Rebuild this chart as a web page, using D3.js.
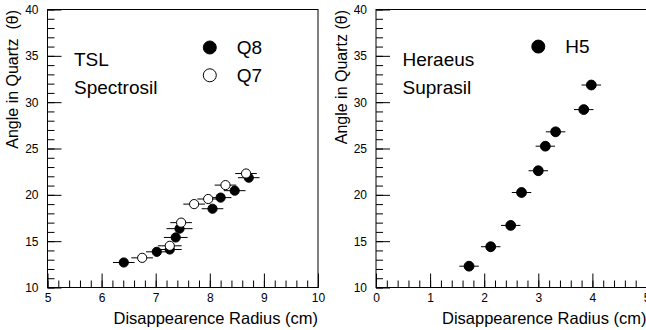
<!DOCTYPE html>
<html>
<head>
<meta charset="utf-8">
<script src="https://cdn.jsdelivr.net/npm/d3@7"></script>
<style>
  body { margin: 0; background: #fff; }
  text { font-family: "Liberation Sans", Arial, sans-serif; fill: #000; }
</style>
</head>
<body>
<div id="viz"></div>
<script>
// TSL Spectrosil, sample Q8 (filled)
let q8Radius = [6.41, 7.02, 7.26, 7.37, 7.44, 8.05, 8.20, 8.46, 8.72]
let q8Angle  = [12.7, 13.85, 14.1, 15.4, 16.35, 18.5, 19.7, 20.45, 21.85]
let q8Err    = [0.2, 0.2, 0.22, 0.22, 0.24, 0.2, 0.2, 0.2, 0.2]
// TSL Spectrosil, sample Q7 (open)
let q7Radius = [6.75, 7.26, 7.47, 7.71, 7.97, 8.29, 8.67]
let q7Angle  = [13.2, 14.5, 17.0, 19.0, 19.55, 21.05, 22.3]
let q7Err    = [0.2, 0.22, 0.2, 0.2, 0.2, 0.2, 0.2]
// Heraeus Suprasil, sample H5
let h5Radius = [1.72, 2.12, 2.49, 2.69, 3.0, 3.13, 3.32, 3.84, 3.98]
let h5Angle  = [12.3, 14.4, 16.7, 20.25, 22.6, 25.25, 26.8, 29.2, 31.85]
let h5Err    = [0.18, 0.18, 0.18, 0.18, 0.18, 0.18, 0.18, 0.18, 0.18]

let xTitle = "Disappearence Radius (cm)"

const W = 646, H = 330

var svg = d3.select("#viz").append("svg")
    .attr("width", W)
    .attr("height", H)

function makeSeries(r, a, e) {
    let out = []
    for (let i = 0; i < r.length; i++) {
        out.push({r: r[i], a: a[i], e: e[i]})
    }
    return out
}

function panel(opt) {
    var x = d3.scaleLinear().domain(opt.xDomain).range([opt.left, opt.left + 270.5])
    var y = d3.scaleLinear().domain([10, 40]).range([287.5, 9.5])

    var g = svg.append("g")

    // minor ticks
    g.append("g")
        .attr("transform", "translate(0,287.5)")
        .call(d3.axisBottom(x).tickValues(d3.range(opt.xDomain[0], opt.xDomain[1] + 0.001, 0.2)).tickSize(-7).tickFormat(""))
        .call(s => s.select(".domain").remove())
    g.append("g")
        .attr("transform", "translate(" + opt.left + ",0)")
        .call(d3.axisLeft(y).tickValues(d3.range(10, 41, 1)).tickSize(-7).tickFormat(""))
        .call(s => s.select(".domain").remove())

    // major ticks + labels
    g.append("g")
        .attr("transform", "translate(0,287.5)")
        .call(d3.axisBottom(x).ticks(5).tickSize(-14).tickPadding(6).tickFormat(d3.format("d")))
        .call(s => s.select(".domain").remove())
        .selectAll("text").style("font-size", "12px")
    g.append("g")
        .attr("transform", "translate(" + opt.left + ",0)")
        .call(d3.axisLeft(y).tickValues([10, 15, 20, 25, 30, 35, 40]).tickSize(-14).tickPadding(9))
        .call(s => s.select(".domain").remove())
        .selectAll("text").style("font-size", "12px")

    g.selectAll(".tick line").attr("stroke", "#000")

    // frame
    g.append("rect")
        .attr("x", x.range()[0]).attr("y", 9.5)
        .attr("width", x.range()[1] - x.range()[0]).attr("height", 278)
        .attr("fill", "none").attr("stroke", "#000").attr("stroke-width", 1)

    // axis titles
    g.append("text")
        .attr("x", x.range()[1]).attr("y", 323.5)
        .attr("text-anchor", "end")
        .style("font-size", "16.5px")
        .text(xTitle)
    g.append("text")
        .attr("transform", "translate(" + (opt.left - 29.5) + ",10) rotate(-90)")
        .attr("text-anchor", "end")
        .style("font-size", "16px")
        .style("white-space", "pre")
        .text(opt.yTitle)

    // data
    opt.series.forEach(function(s) {
        var pts = g.append("g")
        pts.selectAll(".err")
            .data(s.data)
            .enter().append("line")
            .attr("class", "err")
            .attr("x1", d => x(d.r - d.e))
            .attr("x2", d => x(d.r + d.e))
            .attr("y1", d => y(d.a))
            .attr("y2", d => y(d.a))
            .attr("stroke", "#000")
            .attr("stroke-width", 1)
        pts.selectAll(".dot")
            .data(s.data)
            .enter().append("circle")
            .attr("class", "dot")
            .attr("cx", d => x(d.r))
            .attr("cy", d => y(d.a))
            .attr("r", opt.dotR)
            .attr("fill", s.filled ? "#000" : "#fff")
            .attr("stroke", "#000")
            .attr("stroke-width", 1)

        // legend entry
        g.append("circle")
            .attr("cx", x(s.legX)).attr("cy", y(s.legY))
            .attr("r", 6.5)
            .attr("fill", s.filled ? "#000" : "#fff")
            .attr("stroke", "#000")
        g.append("text")
            .attr("x", x(s.legX) + 27).attr("y", y(s.legY) + 6.5)
            .style("font-size", "19px")
            .text(s.name)
    })

    // manufacturer label
    opt.label.forEach(function(t, i) {
        g.append("text")
            .attr("x", opt.left + 26.5).attr("y", 65.7 + i * 28)
            .style("font-size", "19px")
            .text(t)
    })
}

panel({
    left: 47.5,
    xDomain: [5, 10],
    yTitle: "Angle in Quartz  (\u03b8)",
    label: ["TSL", "Spectrosil"],
    dotR: 4.6,
    series: [
        {name: "Q8", filled: true, data: makeSeries(q8Radius, q8Angle, q8Err), legX: 8.0, legY: 35.9},
        {name: "Q7", filled: false, data: makeSeries(q7Radius, q7Angle, q7Err), legX: 8.0, legY: 32.9}
    ]
})

panel({
    left: 376,
    xDomain: [0, 5],
    yTitle: "Angle in Quartz (\u03b8)",
    label: ["Heraeus", "Suprasil"],
    dotR: 4.9,
    series: [
        {name: "H5", filled: true, data: makeSeries(h5Radius, h5Angle, h5Err), legX: 3.0, legY: 36}
    ]
})
</script>
</body>
</html>
